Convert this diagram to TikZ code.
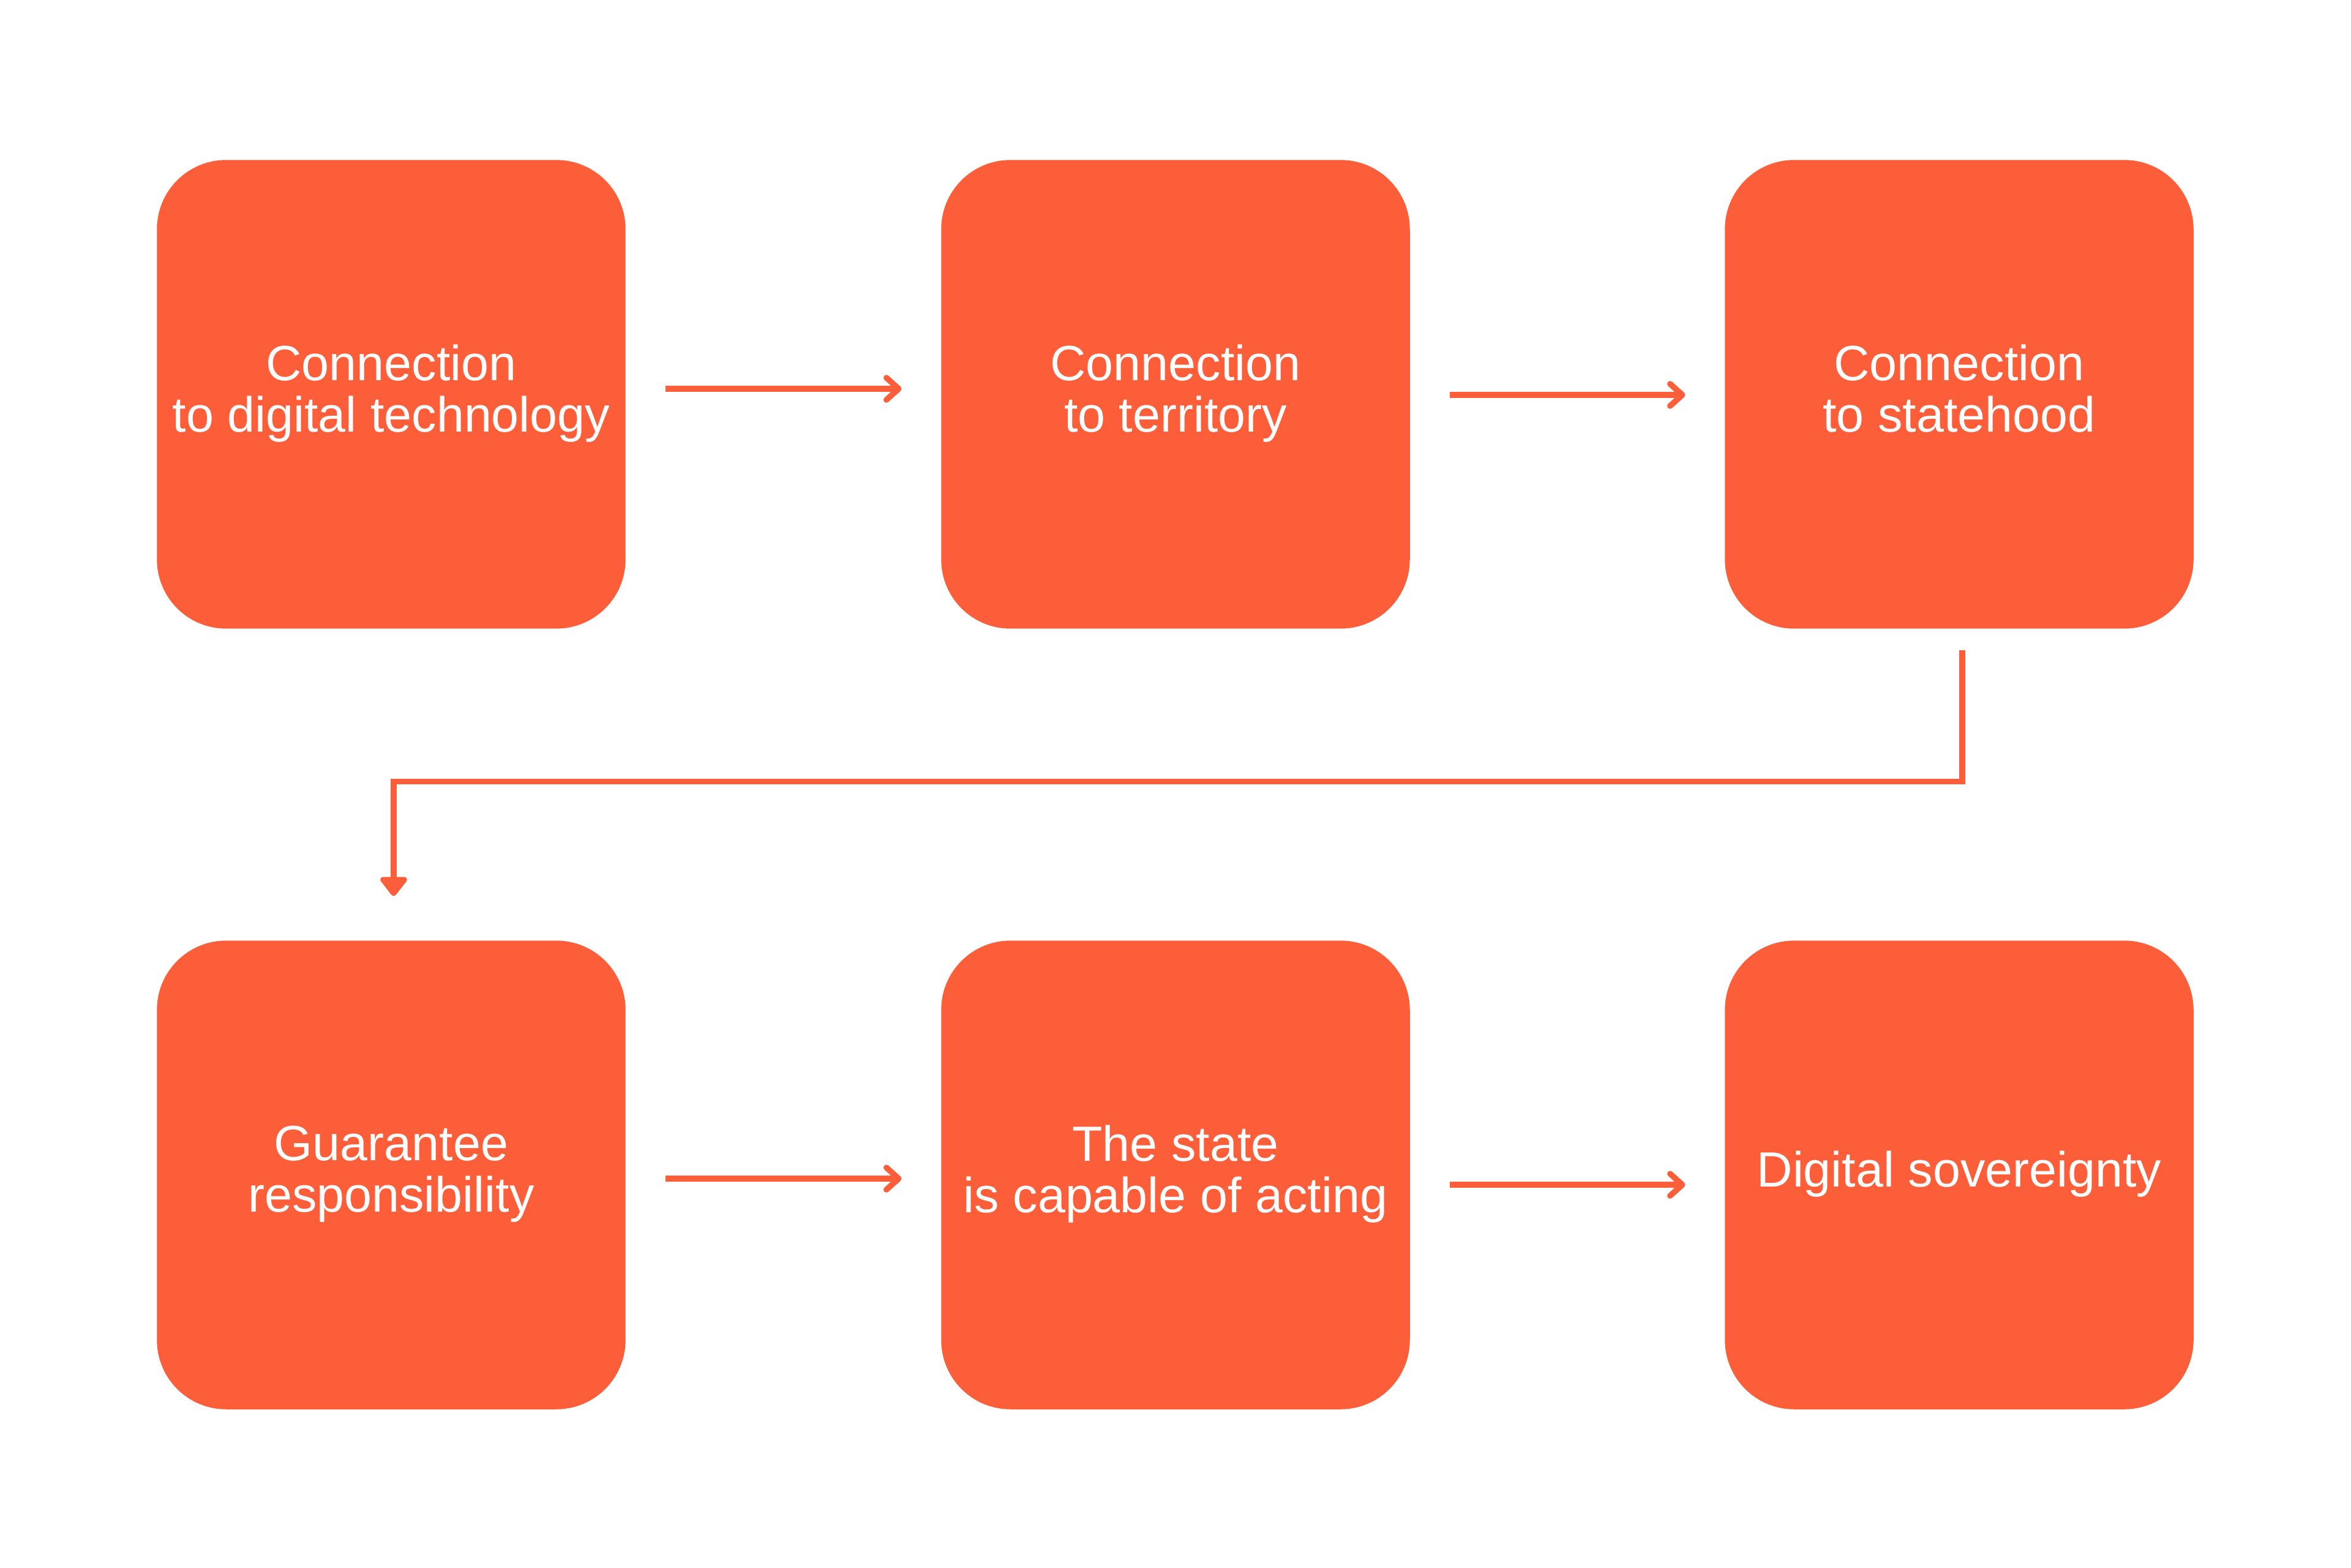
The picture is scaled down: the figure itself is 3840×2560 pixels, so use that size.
\documentclass[tikz,border=0pt]{standalone}
\usepackage{fontspec}
\setmainfont{Liberation Sans}
\usetikzlibrary{arrows.meta}
\definecolor{boxorange}{RGB}{252,94,58}
\begin{document}
\begin{tikzpicture}[x=0.01cm,y=-0.01cm,
  box/.style={fill=boxorange, rounded corners=1.13cm, minimum width=7.65cm,
    minimum height=7.65cm, inner sep=0pt, align=center, text=white,
    text depth=0.2cm,
    font=\fontsize{23}{24}\selectfont},
  flow/.style={draw=boxorange, line width=2.7pt,
    -{Straight Barb[length=0.2cm,width=0.36cm,round]}},
  flowdown/.style={draw=boxorange, line width=2.7pt,
    -{Triangle[length=0.34cm,width=0.5cm,round]}}]
\useasboundingbox (0,0) rectangle (3840,2560);
\node[box] (b1) at (639,644) {Connection\\to digital technology};
\node[box] (b2) at (1920,644) {Connection\\to territory};
\node[box] (b3) at (3200,644) {Connection\\to statehood};
\node[box] (b4) at (639,1919) {Guarantee\\responsibility};
\node[box] (b5) at (1920,1919) {The state\\is capable of acting};
\node[box] (b6) at (3200,1919) {Digital sovereignty};
\draw[flow, shorten <=0.65cm, shorten >=0.64cm] ([yshift=0.09cm]b1.east) -- ([yshift=0.09cm]b2.west);
\draw[flow, shorten <=0.65cm, shorten >=0.64cm] ([yshift=-0.01cm]b2.east) -- ([yshift=-0.01cm]b3.west);
\draw[flow, shorten <=0.65cm, shorten >=0.64cm] ([yshift=-0.06cm]b4.east) -- ([yshift=-0.06cm]b5.west);
\draw[flow, shorten <=0.65cm, shorten >=0.64cm] ([yshift=-0.16cm]b5.east) -- ([yshift=-0.16cm]b6.west);
\draw[flowdown] ([xshift=0.05cm,yshift=-0.35cm]b3.south) -- ++(0,214) -| ([xshift=0.04cm,yshift=0.72cm]b4.north);
\end{tikzpicture}
\end{document}
